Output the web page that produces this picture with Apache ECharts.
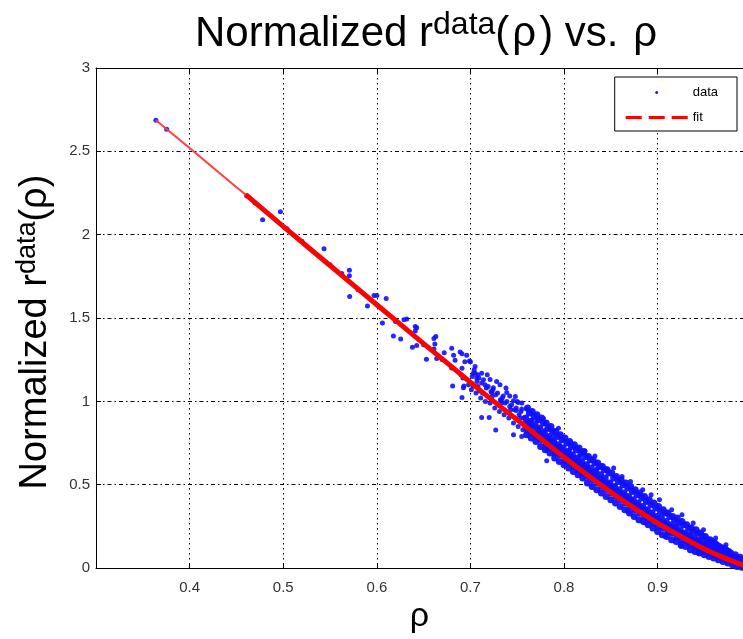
<!DOCTYPE html>
<html><head><meta charset="utf-8">
<script src="https://cdn.jsdelivr.net/npm/echarts/dist/echarts.min.js"></script>
<style>html,body{margin:0;padding:0;background:#fff}#c{width:743px;height:639px}</style>
</head><body><div id="c"></div><script>
// x tick values and y tick values
var xTicks = [0.4, 0.5, 0.6, 0.7, 0.8, 0.9];
var yTicks = [0, 0.5, 1, 1.5, 2, 2.5, 3];

// fitted curve (rho, normalized r)
var fitRho = [0.364, 0.40, 0.45, 0.46, 0.50, 0.55, 0.60, 0.65, 0.70, 0.725, 0.75, 0.775, 0.80, 0.825, 0.85, 0.875, 0.90, 0.925, 0.95, 0.975, 1.0];
var fitR   = [2.687, 2.52, 2.285, 2.24, 2.05, 1.815, 1.58, 1.347, 1.115, 1.0, 0.89, 0.777, 0.665, 0.558, 0.455, 0.36, 0.27, 0.19, 0.115, 0.052, 0.0];

// scattered data points, sparse part
var sparsePoints = [
[0.364,2.687],[0.3755,2.633],[0.461,2.234],[0.470,2.19],[0.478,2.09],[0.497,2.137],[0.504,2.036],[0.52,1.96],[0.5436,1.915],[0.55,1.82],
[0.5625,1.767],[0.5707,1.786],[0.5707,1.753],[0.571,1.63],[0.58,1.67],[0.590,1.572],[0.597,1.636],[0.600,1.636],[0.61,1.617],[0.606,1.471],
[0.62,1.48],[0.6177,1.393],[0.6255,1.374],[0.629,1.49],[0.632,1.495],[0.641,1.45],[0.6426,1.442],[0.641,1.423],[0.638,1.325],[0.6426,1.335],
[0.65,1.34],[0.653,1.253],[0.661,1.378],[0.663,1.39],[0.662,1.345],[0.661,1.315],[0.664,1.257],[0.67,1.25],[0.672,1.292],[0.680,1.319],
[0.68,1.20],[0.682,1.277],[0.689,1.296],[0.6836,1.247],[0.696,1.277],[0.700,1.238],[0.691,1.199],[0.69,1.16],[0.692,1.14],[0.693,1.092],
[0.705,1.169],[0.7067,1.14],[0.681,1.092],
[0.691,1.286],[0.694,1.238],[0.699,1.242],[0.703,1.169],[0.708,1.16],[0.712,1.169],[0.6925,1.082],[0.691,1.023],[0.703,1.092],[0.710,1.062],
[0.7156,1.10],[0.721,1.131],[0.7245,1.082],[0.7227,1.053],[0.7316,1.10],[0.712,0.903],[0.720,0.903],[0.727,0.829],[0.735,1.033],[0.7388,1.053],
[0.742,1.033],[0.733,1.004],[0.746,1.004],[0.751,0.994],[0.7548,0.955],[0.760,0.955],[0.749,0.946],[0.746,0.80],[0.7548,0.79],[0.760,0.839],
[0.7655,0.887],[0.771,0.887],[0.778,0.897],[0.767,0.81],[0.774,0.77],[0.780,0.829],[0.785,0.829],[0.7886,0.79],[0.794,0.839],[0.7815,0.712],
[0.7815,0.644],[0.790,0.683],[0.7957,0.731],[0.799,0.77],[0.806,0.712],[0.8117,0.722],[0.817,0.673],[0.8224,0.702],[0.8296,0.654],[0.833,0.673],
[0.8385,0.615],[0.8456,0.595],[0.835,0.595],[0.853,0.60],[0.862,0.55],[0.871,0.52],[0.884,0.47],[0.893,0.44],[0.902,0.41],[0.915,0.35],
[0.926,0.32],[0.938,0.27],[0.949,0.23],[0.962,0.18],[0.973,0.14],[0.868,0.34],[0.887,0.27],[0.908,0.19],[0.925,0.13],[0.943,0.09]
];

// scattered data points, transition part (0.70 - 0.76)
var midPoints = [
[0.701,1.07],[0.702,1.15],[0.704,1.19],[0.698,1.10],
[0.706,1.05],[0.707,1.12],[0.705,1.21],[0.708,1.09],
[0.711,1.02],[0.712,1.11],[0.709,1.14],[0.713,1.05],
[0.716,1.00],[0.717,1.08],[0.714,1.13],[0.718,1.16],
[0.721,0.99],[0.722,1.06],[0.719,1.09],[0.723,1.03],
[0.726,0.96],[0.727,1.04],[0.724,1.07],[0.728,1.12],
[0.731,0.94],[0.732,1.01],[0.729,1.05],[0.733,0.99],
[0.736,0.92],[0.737,0.99],[0.734,1.02],[0.738,1.08],
[0.741,0.90],[0.742,0.97],[0.739,1.00],[0.743,0.95],
[0.746,0.87],[0.747,0.95],[0.744,0.98],[0.748,1.03],
[0.751,0.85],[0.752,0.92],[0.749,0.96],[0.753,0.90],[0.750,1.00],
[0.756,0.83],[0.757,0.90],[0.754,0.94],[0.758,0.87],[0.755,0.99]
];

// scattered data points, dense band
var bandPoints = [
[0.760,0.80],[0.761,0.83],[0.762,0.87],[0.759,0.90],[0.763,0.93],[0.761,0.96],[0.764,0.85],
[0.765,0.78],[0.766,0.81],[0.767,0.85],[0.764,0.88],[0.768,0.91],[0.766,0.94],
[0.770,0.76],[0.771,0.79],[0.772,0.83],[0.769,0.86],[0.773,0.89],[0.771,0.92],[0.774,0.81],
[0.775,0.73],[0.776,0.77],[0.777,0.80],[0.774,0.84],[0.778,0.87],[0.776,0.90],
[0.780,0.71],[0.781,0.74],[0.782,0.78],[0.779,0.81],[0.783,0.84],[0.781,0.87],[0.784,0.76],
[0.785,0.69],[0.786,0.72],[0.787,0.76],[0.784,0.79],[0.788,0.82],[0.786,0.85],[0.789,0.74],
[0.790,0.66],[0.791,0.70],[0.792,0.73],[0.789,0.76],[0.793,0.79],[0.791,0.82],[0.794,0.71],
[0.795,0.64],[0.796,0.68],[0.797,0.71],[0.794,0.74],[0.798,0.77],[0.796,0.80],[0.799,0.69],
[0.800,0.62],[0.801,0.65],[0.802,0.69],[0.799,0.72],[0.803,0.75],[0.801,0.78],[0.804,0.67],
[0.805,0.60],[0.806,0.63],[0.807,0.67],[0.804,0.70],[0.808,0.73],[0.806,0.76],[0.809,0.65],
[0.810,0.58],[0.811,0.61],[0.812,0.65],[0.809,0.68],[0.813,0.71],[0.811,0.74],[0.814,0.63],
[0.815,0.56],[0.816,0.59],[0.817,0.63],[0.814,0.66],[0.818,0.69],[0.816,0.72],[0.819,0.61],
[0.820,0.54],[0.821,0.57],[0.822,0.61],[0.819,0.64],[0.823,0.67],[0.821,0.70],[0.824,0.59],
[0.825,0.51],[0.826,0.55],[0.827,0.58],[0.824,0.62],[0.828,0.65],[0.826,0.67],[0.829,0.57],
[0.830,0.49],[0.831,0.53],[0.832,0.56],[0.829,0.60],[0.833,0.63],[0.831,0.65],[0.834,0.55],
[0.835,0.47],[0.836,0.51],[0.837,0.54],[0.834,0.58],[0.838,0.61],[0.836,0.63],[0.839,0.53],
[0.840,0.45],[0.841,0.49],[0.842,0.52],[0.839,0.56],[0.843,0.59],[0.841,0.61],[0.844,0.51],
[0.845,0.43],[0.846,0.47],[0.847,0.50],[0.844,0.54],[0.848,0.57],[0.846,0.59],[0.849,0.49],
[0.850,0.41],[0.851,0.45],[0.852,0.48],[0.849,0.51],[0.853,0.54],[0.851,0.57],[0.854,0.47],
[0.855,0.39],[0.856,0.43],[0.857,0.46],[0.854,0.49],[0.858,0.52],[0.856,0.55],[0.859,0.45],
[0.860,0.37],[0.861,0.41],[0.862,0.44],[0.859,0.47],[0.863,0.50],[0.861,0.53],[0.864,0.43],
[0.865,0.35],[0.866,0.39],[0.867,0.42],[0.864,0.45],[0.868,0.48],[0.866,0.51],[0.869,0.41],
[0.870,0.33],[0.871,0.37],[0.872,0.40],[0.869,0.43],[0.873,0.46],[0.871,0.49],[0.874,0.39],
[0.875,0.31],[0.876,0.35],[0.877,0.38],[0.874,0.41],[0.878,0.44],[0.876,0.47],[0.879,0.37],
[0.880,0.29],[0.881,0.33],[0.882,0.36],[0.879,0.39],[0.883,0.42],[0.881,0.45],[0.884,0.35],
[0.885,0.28],[0.886,0.31],[0.887,0.34],[0.884,0.37],[0.888,0.40],[0.886,0.43],[0.889,0.33],
[0.890,0.26],[0.891,0.29],[0.892,0.32],[0.889,0.35],[0.893,0.38],[0.891,0.41],[0.894,0.31],
[0.895,0.24],[0.896,0.27],[0.897,0.30],[0.894,0.33],[0.898,0.36],[0.896,0.39],[0.899,0.29],
[0.900,0.22],[0.901,0.25],[0.902,0.28],[0.899,0.31],[0.903,0.34],[0.901,0.37],[0.904,0.27],
[0.905,0.20],[0.906,0.24],[0.907,0.27],[0.904,0.30],[0.908,0.33],[0.906,0.35],[0.909,0.26],
[0.910,0.19],[0.911,0.22],[0.912,0.25],[0.909,0.28],[0.913,0.31],[0.911,0.33],[0.914,0.24],
[0.915,0.17],[0.916,0.21],[0.917,0.24],[0.914,0.26],[0.918,0.29],[0.916,0.31],[0.919,0.22],
[0.920,0.16],[0.921,0.19],[0.922,0.22],[0.919,0.25],[0.923,0.27],[0.921,0.30],[0.924,0.21],
[0.925,0.14],[0.926,0.17],[0.927,0.20],[0.924,0.23],[0.928,0.26],[0.926,0.28],[0.929,0.19],
[0.930,0.13],[0.931,0.16],[0.932,0.19],[0.929,0.21],[0.933,0.24],[0.931,0.26],[0.934,0.18],
[0.935,0.11],[0.936,0.14],[0.937,0.17],[0.934,0.20],[0.938,0.22],[0.936,0.24],[0.939,0.16],
[0.940,0.10],[0.941,0.13],[0.942,0.16],[0.939,0.18],[0.943,0.21],[0.941,0.23],[0.944,0.15],
[0.945,0.09],[0.946,0.11],[0.947,0.14],[0.944,0.17],[0.948,0.19],[0.946,0.21],[0.949,0.13],
[0.950,0.08],[0.951,0.10],[0.952,0.13],[0.949,0.15],[0.953,0.17],[0.951,0.19],[0.954,0.12],
[0.955,0.07],[0.956,0.09],[0.957,0.11],[0.954,0.14],[0.958,0.16],[0.956,0.17],[0.959,0.10],
[0.960,0.06],[0.961,0.08],[0.962,0.10],[0.959,0.12],[0.963,0.14],[0.961,0.15],[0.964,0.09],
[0.965,0.05],[0.966,0.07],[0.967,0.09],[0.964,0.11],[0.968,0.12],[0.966,0.13],
[0.970,0.04],[0.971,0.06],[0.972,0.08],[0.969,0.09],[0.973,0.11],[0.971,0.12],
[0.975,0.03],[0.976,0.05],[0.977,0.07],[0.974,0.08],[0.978,0.09],[0.976,0.10],
[0.980,0.02],[0.981,0.04],[0.982,0.06],[0.979,0.07],[0.983,0.08],
[0.985,0.01],[0.986,0.03],[0.987,0.05],[0.984,0.06],[0.988,0.065],
[0.990,0.005],[0.991,0.02],[0.992,0.04],[0.989,0.05],
[0.995,0.0],[0.996,0.015],[0.994,0.03],[0.997,0.025]
];

var X_MIN = 0.3, X_MAX = 0.9912;
var FF = '"Liberation Sans", Arial, Helvetica, sans-serif';
var chart = echarts.init(document.getElementById('c'), null, {renderer: 'canvas'});

var fitAll = fitRho.map(function (x, i) { return [x, fitR[i]]; });
var splitAt = fitRho.indexOf(0.46);
var fitThin = fitAll.slice(0, splitAt + 1);
var fitThick = fitAll.slice(splitAt);

function xFmt(v) {
  for (var i = 0; i < xTicks.length; i++) if (Math.abs(v - xTicks[i]) < 1e-6) return xTicks[i].toFixed(1);
  return '';
}
function yFmt(v) {
  for (var i = 0; i < yTicks.length; i++) if (Math.abs(v - yTicks[i]) < 1e-6) return String(yTicks[i]);
  return '';
}

var option = {
  animation: false,
  backgroundColor: '#fff',
  title: {
    left: 195, top: 9, padding: 0,
    text: '{a|Normalized r}{b|data}{a|(}{g|ρ}{a|) vs. }{g|ρ}',
    textStyle: {
      fontWeight: 'normal',
      rich: {
        a: {fontSize: 42, fontFamily: FF, fontWeight: 'normal', color: '#000', lineHeight: 50, verticalAlign: 'middle'},
        g: {fontSize: 42, fontFamily: FF, fontWeight: 'normal', color: '#000', lineHeight: 50, verticalAlign: 'middle', padding: [0, 3, 0, 3]},
        b: {fontSize: 32, fontFamily: FF, fontWeight: 'normal', color: '#000', lineHeight: 39, verticalAlign: 'top'}
      }
    }
  },
  legend: {
    right: 6, top: 77, orient: 'vertical',
    backgroundColor: '#fff', borderColor: '#000', borderWidth: 1, borderRadius: 0,
    padding: [9, 19, 7, 11],
    itemWidth: 62, itemHeight: 3, itemGap: 12,
    textStyle: {fontSize: 13, fontFamily: FF, color: '#000'},
    data: [
      {name: 'data', icon: 'circle', itemStyle: {color: '#0000ff'}},
      {name: 'fit', icon: 'path://M0,0h16v3h-16z M23,0h16v3h-16z M46,0h16v3h-16z', itemStyle: {color: '#ff0000', borderWidth: 0}}
    ]
  },
  grid: {left: 96, right: 0, top: 68, bottom: 57, containLabel: false},
  xAxis: [{
    type: 'value', min: X_MIN, max: X_MAX, interval: 0.1, position: 'bottom',
    axisLine: {show: true, onZero: false, lineStyle: {color: '#000', width: 1}},
    axisTick: {show: true, inside: true, length: 5, lineStyle: {color: '#000', width: 1}},
    axisLabel: {formatter: xFmt, color: '#333', fontSize: 15, fontFamily: FF, margin: 12, showMaxLabel: false},
    splitLine: {show: true, showMaxLine: false, lineStyle: {color: '#000', width: 1, type: [1.5, 3.5]}},
    name: 'ρ', nameLocation: 'middle', nameGap: 26,
    nameTextStyle: {fontSize: 34, fontFamily: FF, color: '#000'}
  }, {
    type: 'value', min: X_MIN, max: X_MAX, interval: 0.1, position: 'top',
    axisLine: {show: true, onZero: false, lineStyle: {color: '#000', width: 1}},
    axisTick: {show: true, inside: true, length: 5, lineStyle: {color: '#000', width: 1}},
    axisLabel: {show: false}, splitLine: {show: false}
  }],
  yAxis: {
    type: 'value', min: 0, max: 3, interval: 0.5,
    axisLine: {show: true, onZero: false, lineStyle: {color: '#000', width: 1}},
    axisTick: {show: true, inside: true, length: 5, lineStyle: {color: '#000', width: 1}},
    axisLabel: {formatter: yFmt, color: '#333', fontSize: 15, fontFamily: FF, margin: 6},
    splitLine: {show: true, lineStyle: {color: '#000', width: 1, type: [4, 3, 1.5, 3]}},
    name: '{a|Normalized r}{b|data}{a|(ρ)}', nameLocation: 'middle', nameRotate: 90, nameGap: 38,
    nameTextStyle: {
      padding: [0, 28, 0, 0],
      rich: {
        a: {fontSize: 38, fontFamily: FF, color: '#000', lineHeight: 44, verticalAlign: 'middle'},
        b: {fontSize: 27, fontFamily: FF, color: '#000', lineHeight: 34, verticalAlign: 'top'}
      }
    }
  },
  series: [{
    name: 'data', type: 'scatter', data: sparsePoints.concat(midPoints),
    symbol: 'circle', symbolSize: 5,
    itemStyle: {color: '#1010ff', opacity: 0.9}, z: 2, silent: true
  }, {
    name: 'data', type: 'scatter', data: bandPoints,
    symbol: 'circle', symbolSize: 7,
    itemStyle: {color: '#1010ff', opacity: 0.95}, z: 2, silent: true
  }, {
    name: 'fit', type: 'line', data: fitThin, showSymbol: false, symbol: 'none',
    lineStyle: {color: '#ff4040', width: 2}, itemStyle: {color: '#ff0000'}, z: 3, silent: true
  }, {
    name: 'fit', type: 'line', data: fitThick, showSymbol: false, symbol: 'none', smooth: 0.3,
    lineStyle: {color: '#ff0000', width: 5}, itemStyle: {color: '#ff0000'}, z: 3, silent: true
  }]
};
chart.setOption(option);
</script></body></html>
